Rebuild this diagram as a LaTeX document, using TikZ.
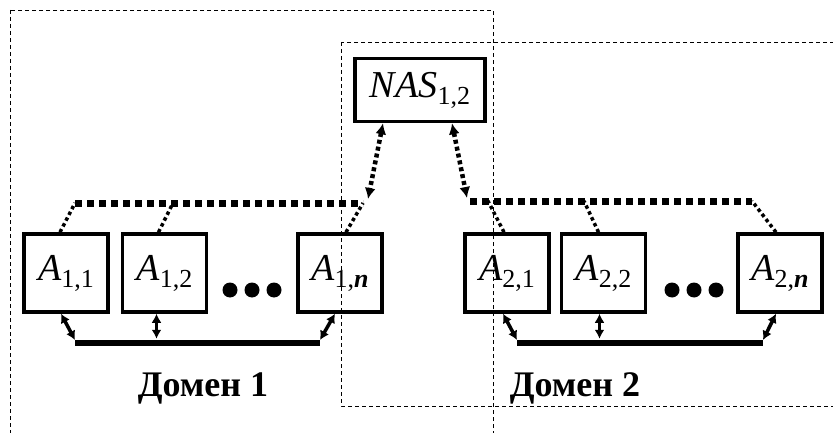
\documentclass[tikz,border=0pt]{standalone}
\usepackage{fontspec}
\setmainfont{Liberation Serif}
\usetikzlibrary{arrows.meta,positioning,calc}
\tikzset{
  agent/.style={draw,line width=3.5pt,minimum width=84pt,minimum height=78pt,%
    inner sep=0pt,font=\fontsize{38}{40}\selectfont},
  zone/.style={draw,line width=0.8pt,dash pattern=on 4pt off 3pt},
  link/.style={line width=3.5pt,dash pattern=on 3.5pt off 3pt},
  bus/.style={line width=7pt,dash pattern=on 7pt off 5pt},
  access/.style={{Latex[length=11pt,width=11pt]}-{Latex[length=11pt,width=11pt]},%
    line width=4.5pt,dash pattern=on 4pt off 3pt},
  wire/.style={line width=6.5pt},
  tap/.style={{Latex[length=9pt,width=10pt]}-{Latex[length=9pt,width=10pt]},line width=3.5pt},
  blob/.style={fill,circle,minimum size=15pt,inner sep=0pt},
  title/.style={font=\fontsize{36}{40}\selectfont\bfseries},
}
\newcommand{\ag}[2]{\textit{#1}\raisebox{-0.4ex}{\fontsize{26}{28}\selectfont #2}}

\begin{document}
\begin{tikzpicture}[x=1pt,y=-1pt,node distance=11pt]
\useasboundingbox (0,0) rectangle (833,433);
% domains
\draw[zone] (10,10) rectangle (493,450);
\draw[zone] (341,42) rectangle (850,406);
% agents of domain 1
\node[agent] (A11) at (66,273) {\ag{A}{1,1}};
\node[agent,right=of A11] (A12) {\ag{A}{1,2}};
\node[agent,right=88pt of A12] (A1n) {\ag{A}{1,\textbf{\textit{n}}}};
% agents of domain 2
\node[agent] (A21) at (507,273) {\ag{A}{2,1}};
\node[agent,right=9pt of A21] (A22) {\ag{A}{2,2}};
\node[agent,right=89pt of A22] (A2n) {\ag{A}{2,\textbf{\textit{n}}}};
\node[agent,minimum width=130pt,minimum height=63pt] (nas) at (420,90) {\ag{NAS}{1,2}};
\node[blob] (e11) at (230,290) {};
\node[blob] (e12) at (252,290) {};
\node[blob] (e13) at (274,290) {};
\node[blob] (e21) at (672,290) {};
\node[blob] (e22) at (694,290) {};
\node[blob] (e23) at (716,290) {};
\node[title] (dom1) at (203,388) {Домен 1};
\node[title] (dom2) at (575,388) {Домен 2};
% dotted buses
\coordinate (b1w) at (75,203);
\coordinate (b12) at (173,203);
\coordinate (b1e) at (363,203);
\coordinate (b2w) at (470,201);
\coordinate (b21) at (488,201);
\coordinate (b22) at (584,201);
\coordinate (b2e) at (752,201);
\draw[bus] (b1w) -- (b1e);
\draw[bus] (b2w) -- (b2e);
\draw[link] ([xshift=-6pt]A11.north) -- (b1w);
\draw[link] ([xshift=-6pt]A12.north) -- (b12);
\draw[link] ([xshift=6pt]A1n.north) -- (b1e);
\draw[link] ([xshift=-3pt]A21.north) -- (b21);
\draw[link] ([xshift=-5pt]A22.north) -- (b22);
\draw[link] ([xshift=-4pt]A2n.north) -- (b2e);
\draw[access] ([xshift=-37pt]nas.south) -- ($(b1e)+(5,-4)$);
\draw[access] ([xshift=32pt]nas.south) -- ($(b2w)+(-3,-3)$);
% solid buses
\coordinate (w1w) at (75,343);
\coordinate (w1e) at (320,343);
\coordinate (w2w) at (517,343);
\coordinate (w2e) at (763,343);
\draw[wire] (w1w) -- (w1e);
\draw[wire] (w2w) -- (w2e);
\draw[tap] ([xshift=-5pt]A11.south) -- ($(w1w)+(0,-3)$);
\draw[tap] ([xshift=-8pt]A12.south) -- ($(A12.south)+(-8,25)$);
\draw[tap] ([xshift=-5pt]A1n.south) -- ($(w1e)+(0,-3)$);
\draw[tap] ([xshift=-4pt]A21.south) -- ($(w2w)+(0,-3)$);
\draw[tap] ([xshift=-4pt]A22.south) -- ($(A22.south)+(-4,25)$);
\draw[tap] ([xshift=-4pt]A2n.south) -- ($(w2e)+(0,-3)$);
\end{tikzpicture}
\end{document}
